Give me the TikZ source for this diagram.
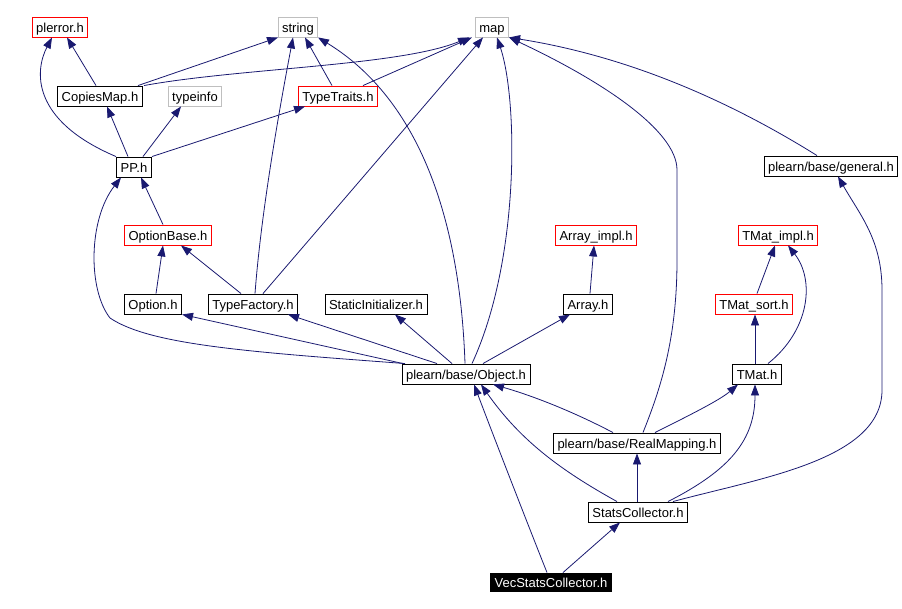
\documentclass[tikz,border=0pt]{standalone}
\usepackage{fontspec}
\setmainfont{Liberation Sans}
\usepackage{tikz}
\usetikzlibrary{arrows.meta}
\definecolor{edgeblue}{HTML}{191970}
\definecolor{extgray}{HTML}{BFBFBF}

\begin{document}
\begin{tikzpicture}[
  x=1pt, y=-1pt,
  hdr/.style = {
    draw=#1, fill=white, line width=0.9pt,
    inner xsep=4pt, inner ysep=0pt, minimum height=20pt,
    text height=12pt, text depth=1.5pt,
    font=\fontsize{13}{13}\selectfont
  },
  hdr/.default = black,
  focus/.style = {hdr, fill=black, text=white, minimum height=18pt},
  dep/.style   = {-{Triangle[length=11pt,width=8pt]}, edgeblue, line width=0.8pt}
]
\useasboundingbox (0,0) rectangle (902,609);

\node[hdr=red]     (plerror)  at (60,27)   {plerror.h};
\node[hdr=extgray] (string)   at (298,27)  {string};
\node[hdr=extgray] (map)      at (492,27)  {map};

\node[hdr]         (cmap)     at (100,96)  {CopiesMap.h};
\node[hdr=extgray] (typeinfo) at (195,96)  {typeinfo};
\node[hdr=red]     (ttraits)  at (338,96)  {TypeTraits.h};

\node[hdr]         (pp)       at (134,167) {PP.h};
\node[hdr]         (general)  at (831,166) {plearn/base/general.h};

\node[hdr=red]     (optbase)  at (168,235) {OptionBase.h};
\node[hdr=red]     (arrimpl)  at (596,235) {Array\_impl.h};
\node[hdr=red]     (tmimpl)   at (778,235) {TMat\_impl.h};

\node[hdr]         (option)   at (153,304) {Option.h};
\node[hdr]         (tfact)    at (253,304) {TypeFactory.h};
\node[hdr]         (sinit)    at (376,304) {StaticInitializer.h};
\node[hdr]         (array)    at (588,304) {Array.h};
\node[hdr=red]     (tmsort)   at (754,304) {TMat\_sort.h};

\node[hdr]         (obj)      at (466,374) {plearn/base/Object.h};
\node[hdr]         (tmat)     at (757,374) {TMat.h};
\node[hdr]         (rmap)     at (637,443) {plearn/base/RealMapping.h};
\node[hdr]         (stats)    at (638,512) {StatsCollector.h};
\node[focus]       (vstats)   at (551,582) {VecStatsCollector.h};

\draw[dep] ([xshift=-4]cmap.north) -- ([xshift=7]plerror.south);
\draw[dep] ([xshift=-18]pp.north) .. controls (30,120) and (35,70) .. ([xshift=-8]plerror.south);
\draw[dep] ([xshift=38]cmap.north) -- ([xshift=-20]string.south);
\draw[dep] ([xshift=44]cmap.north) .. controls (240,68) and (400,66) .. ([xshift=-23]map.south);
\draw[dep] ([xshift=-6]pp.north) -- ([xshift=7]cmap.south);
\draw[dep] ([xshift=9]pp.north) -- ([xshift=-14]typeinfo.south);
\draw[dep] ([xshift=18]pp.north) -- ([xshift=-33]ttraits.south);
\draw[dep] ([xshift=-6]ttraits.north) -- ([xshift=7]string.south);
\draw[dep] ([xshift=25]ttraits.north) -- ([xshift=-20]map.south);

\draw[dep] ([xshift=-5]optbase.north) -- ([xshift=7]pp.south);
\draw[dep] ([xshift=3]option.north) -- ([xshift=-5]optbase.south);
\draw[dep] ([xshift=-12]tfact.north) -- ([xshift=13]optbase.south);
\draw[dep] ([xshift=2]tfact.north) .. controls (262,200) and (285,80) .. ([xshift=-5]string.south);
\draw[dep] ([xshift=10]tfact.north) -- ([xshift=-9]map.south);

\draw[dep] ([xshift=-61]obj.north) .. controls (250,352) and (150,345) .. (110,318)
  .. controls (88,290) and (88,220) .. ([xshift=-13]pp.south);
\draw[dep] ([xshift=-63]obj.north) -- (option.south east);
\draw[dep] ([xshift=-29]obj.north) -- ([xshift=35]tfact.south);
\draw[dep] ([xshift=-14]obj.north) -- ([xshift=19]sinit.south);
\draw[dep] ([xshift=-1]obj.north) .. controls (460,220) and (420,100) .. ([xshift=20]string.south);
\draw[dep] ([xshift=6]obj.north) .. controls (520,260) and (518,100) .. ([xshift=5]map.south);
\draw[dep] ([xshift=17]obj.north) -- ([xshift=-18]array.south);

\draw[dep] ([xshift=2]array.north) -- ([xshift=-2]arrimpl.south);
\draw[dep] ([xshift=3]tmsort.north) -- ([xshift=-3]tmimpl.south);
\draw[dep] ([xshift=-2]tmat.north) -- ([xshift=1]tmsort.south);
\draw[dep] ([xshift=11]tmat.north) .. controls (810,330) and (815,280) .. ([xshift=10]tmimpl.south);
\draw[dep] ([xshift=-14]general.north) .. controls (720,95) and (620,55) .. (map.south east);

\draw[dep] ([xshift=-24]rmap.north) .. controls (570,410) and (530,395) .. ([xshift=27]obj.south);
\draw[dep] ([xshift=18]rmap.north) .. controls (690,415) and (720,400) .. ([xshift=-19]tmat.south);
\draw[dep] ([xshift=6]rmap.north) .. controls (660,390) and (677,340) .. (677,260)
  -- (677,170) .. controls (677,130) and (600,80) .. (map.south east);

\draw[dep] ([xshift=-1]stats.north) -- (rmap.south);
\draw[dep] ([xshift=-21]stats.north) .. controls (560,470) and (520,440) .. ([xshift=15]obj.south);
\draw[dep] ([xshift=30]stats.north) .. controls (730,470) and (755,440) .. ([xshift=-2]tmat.south);
\draw[dep] ([xshift=35]stats.north) .. controls (760,478) and (882,460) .. (882,390)
  -- (882,290) .. controls (882,240) and (860,215) .. ([xshift=7]general.south);

\draw[dep] ([xshift=12]vstats.north) -- ([xshift=-18]stats.south);
\draw[dep] ([xshift=-4]vstats.north) .. controls (530,530) and (495,440) .. ([xshift=8]obj.south);

\end{tikzpicture}
\end{document}
